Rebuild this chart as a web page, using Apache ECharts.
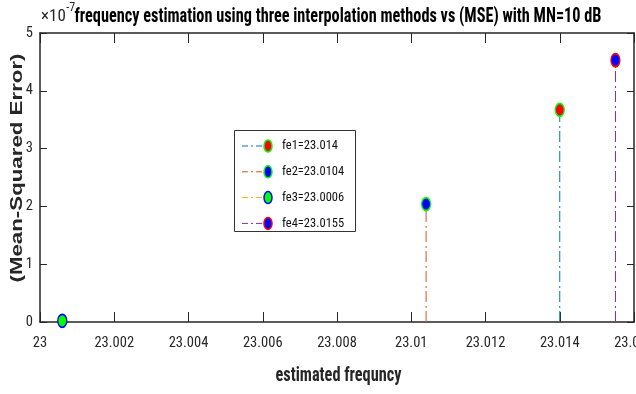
<!DOCTYPE html>
<html><head><meta charset="utf-8">
<script src="https://cdn.jsdelivr.net/npm/echarts@6/dist/echarts.min.js"></script>
<style>html,body{margin:0;padding:0;background:#fff}#c{width:636px;height:394px}</style>
</head><body><div id="c"></div>
<script>
const labels = ['fe1=23.014', 'fe2=23.0104', 'fe3=23.0006', 'fe4=23.0155'];
const freq = [23.014, 23.0104, 23.0006, 23.0155];
const mse = [3.67e-7, 2.04e-7, 0.02e-7, 4.53e-7];
const lineColors = ['#0072BD', '#D95319', '#EDB120', '#7E2F8E'];
const faceColors = ['#FF0000', '#0000FF', '#00FF00', '#0000FF'];
const edgeColors = ['#00FF00', '#00FF00', '#0000FF', '#FF0000'];
const titleText = 'frequency estimation using three interpolation methods vs (MSE) with MN=10 dB';
const xName = 'estimated frequncy';
const yName = '(Mean-Squared Error)';
const expBase = '\u00d710';
const expPow = '-7';
const xMin = 23, xMax = 23.016, xStep = 0.002;
const yMin = 0, yMax = 5e-7, yStep = 1e-7;

const COND = '"Roboto Condensed", "Liberation Sans", sans-serif';
const SANS = '"Liberation Sans", Arial, sans-serif';
const ELLIPSE = 'path://M0,-1A1,1 0 1,1 0,1A1,1 0 1,1 0,-1Z';
const DASH = [11, 3, 2, 4];
const AX = '#262626';

const mctx = document.createElement('canvas').getContext('2d');
function textW(t, font) { mctx.font = font; return mctx.measureText(t).width; }
function fitScale(t, font, target) { return target / textW(t, font); }

const chart = echarts.init(document.getElementById('c'), null, {renderer: 'canvas'});

const series = freq.map((f, i) => ({
  type: 'line',
  name: labels[i],
  data: [{value: [f, 0], symbol: 'none'}, {value: [f, mse[i]]}],
  symbol: ELLIPSE,
  symbolSize: [9, 13],
  showSymbol: true,
  clip: false,
  lineStyle: {color: lineColors[i], width: 1, type: DASH},
  itemStyle: {color: faceColors[i], borderColor: edgeColors[i], borderWidth: 1.5},
  emphasis: {disabled: true},
  z: 3 + i
}));

const xLabelFmt = v => String(Number(v.toFixed(4)));
const yLabelFmt = v => String(Math.round(v / 1e-7));

const legendX = 234, legendY = 130, rowH = 25.8;
const legendEls = [{
  type: 'rect', shape: {x: legendX + 0.5, y: legendY + 0.5, width: 121, height: 101},
  style: {fill: '#fff', stroke: '#333', lineWidth: 1}, z: 10
}];
labels.forEach((t, i) => {
  const cy = legendY + 16 + i * rowH;
  legendEls.push({type: 'line', shape: {x1: legendX + 8, y1: cy, x2: legendX + 34, y2: cy},
    style: {stroke: lineColors[i], lineWidth: 1, lineDash: [6, 3, 2, 3]}, z: 11});
  legendEls.push({type: 'ellipse', shape: {cx: legendX + 34, cy: cy, rx: 4, ry: 6},
    style: {fill: faceColors[i], stroke: edgeColors[i], lineWidth: 1.5}, z: 12});
  legendEls.push({type: 'text', style: {text: t, x: legendX + 48, y: cy, verticalAlign: 'middle',
    font: '12.5px ' + COND, fill: '#111'}, z: 12});
});

const titleFont = 'bold 20px ' + COND;
const xNameFont = 'bold 20px ' + COND;
const yNameFont = 'bold 16.5px ' + SANS;
const expFont = '17px ' + COND;
const expW = textW(expBase, expFont);

chart.setOption({
  animation: false,
  backgroundColor: '#fff',
  grid: {left: 40, right: 2, top: 33, bottom: 72, containLabel: false, outerBoundsMode: 'none'},
  xAxis: [{
    type: 'value', min: xMin, max: xMax, interval: xStep,
    axisLine: {show: true, onZero: false, lineStyle: {color: AX, width: 1.5}},
    axisTick: {show: true, inside: true, length: 10, lineStyle: {color: AX, width: 1}},
    axisLabel: {formatter: xLabelFmt, margin: 14, fontFamily: '"Roboto Condensed"', fontSize: 14.5, color: '#262626'},
    splitLine: {show: false}
  }, {
    type: 'value', min: xMin, max: xMax, interval: xStep, position: 'top',
    axisLine: {show: true, onZero: false, lineStyle: {color: AX, width: 1.5}},
    axisTick: {show: true, inside: true, length: 10, lineStyle: {color: AX, width: 1}},
    axisLabel: {show: false}, splitLine: {show: false}
  }],
  yAxis: [{
    type: 'value', min: yMin, max: yMax, interval: yStep,
    axisLine: {show: true, onZero: false, lineStyle: {color: AX, width: 1.5}},
    axisTick: {show: true, inside: true, length: 7, lineStyle: {color: AX, width: 1}},
    axisLabel: {formatter: yLabelFmt, margin: 7, fontFamily: '"Roboto Condensed"', fontSize: 14.5, color: '#262626'},
    splitLine: {show: false}
  }, {
    type: 'value', min: yMin, max: yMax, interval: yStep, position: 'right',
    axisLine: {show: true, onZero: false, lineStyle: {color: AX, width: 1.5}},
    axisTick: {show: true, inside: true, length: 7, lineStyle: {color: AX, width: 1}},
    axisLabel: {show: false}, splitLine: {show: false}
  }],
  series: series,
  graphic: [
    {type: 'text', z: 20, x: 338, y: 17, scaleX: fitScale(titleText, titleFont, 527),
      style: {text: titleText, x: 0, y: 0, align: 'center', verticalAlign: 'middle', font: titleFont, fill: '#000'}},
    {type: 'text', z: 20, x: 338.5, y: 376, scaleX: fitScale(xName, xNameFont, 126),
      style: {text: xName, x: 0, y: 0, align: 'center', verticalAlign: 'middle', font: xNameFont, fill: '#262626'}},
    {type: 'text', z: 20, x: 17, y: 168, rotation: Math.PI / 2, scaleX: fitScale(yName, yNameFont, 229),
      style: {text: yName, x: 0, y: 0, align: 'center', verticalAlign: 'middle', font: yNameFont, fill: '#262626'}},
    {type: 'text', z: 20, style: {text: expBase, x: 41, y: 17, verticalAlign: 'middle', font: expFont, fill: '#262626'}},
    {type: 'text', z: 20, style: {text: expPow, x: 41 + expW + 0.5, y: 8, verticalAlign: 'middle', font: '12px ' + COND, fill: '#262626'}}
  ].concat(legendEls)
});
</script></body></html>
